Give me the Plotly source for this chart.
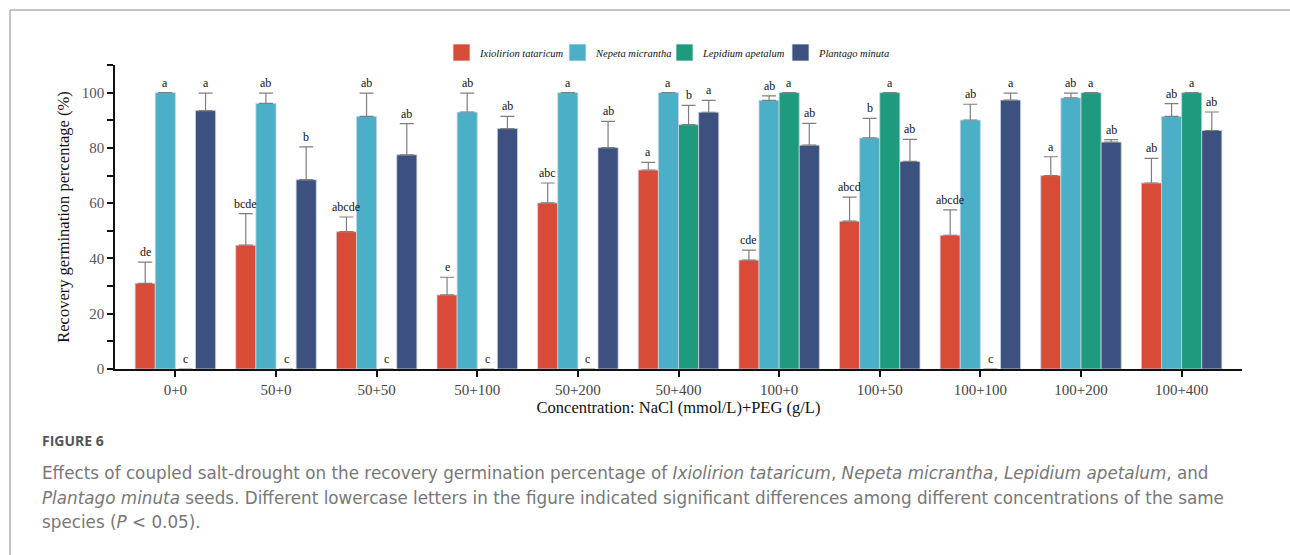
import plotly.graph_objects as go

# Treatments: NaCl (mmol/L) + PEG (g/L)
categories = ["0+0", "50+0", "50+50", "50+100", "50+200", "50+400",
              "100+0", "100+50", "100+100", "100+200", "100+400"]

species = ["Ixiolirion tataricum", "Nepeta micrantha",
           "Lepidium apetalum", "Plantago minuta"]

# Recovery germination percentage (%) - means
ixiolirion = [31.0, 44.8, 49.7, 26.8, 60.1, 72.0, 39.4, 53.5, 48.4, 70.0, 67.3]
nepeta = [100.0, 96.1, 91.4, 93.0, 100.0, 100.0, 97.2, 83.6, 90.1, 98.1, 91.4]
lepidium = [0.0, 0.0, 0.0, 0.0, 0.0, 88.4, 100.0, 100.0, 0.0, 100.0, 100.0]
plantago = [93.5, 68.5, 77.5, 87.0, 80.1, 92.9, 81.0, 75.1, 97.3, 82.1, 86.3]

# Standard errors
ixiolirion_se = [7.7, 11.4, 5.3, 6.4, 7.2, 2.8, 3.6, 8.7, 9.2, 6.8, 8.9]
nepeta_se = [0.0, 3.7, 8.4, 6.8, 0.0, 0.0, 1.6, 7.1, 5.7, 1.7, 4.6]
lepidium_se = [0.0, 0.0, 0.0, 0.0, 0.0, 7.0, 0.0, 0.0, 0.0, 0.0, 0.0]
plantago_se = [6.3, 11.9, 11.3, 4.4, 9.5, 4.3, 7.9, 8.0, 2.5, 0.9, 6.7]

# Significance letters
ixiolirion_sig = ["de", "bcde", "abcde", "e", "abc", "a", "cde", "abcd", "abcde", "a", "ab"]
nepeta_sig = ["a", "ab", "ab", "ab", "a", "a", "ab", "b", "ab", "ab", "ab"]
lepidium_sig = ["c", "c", "c", "c", "c", "b", "a", "a", "c", "a", "a"]
plantago_sig = ["a", "b", "ab", "ab", "ab", "a", "ab", "ab", "a", "ab", "ab"]

colors = ["#D84B37", "#4BAFC8", "#1E9A7E", "#3C5180"]

means = [ixiolirion, nepeta, lepidium, plantago]
errors = [ixiolirion_se, nepeta_se, lepidium_se, plantago_se]
letters = [ixiolirion_sig, nepeta_sig, lepidium_sig, plantago_sig]

SERIF = "Liberation Serif, Times New Roman, serif"
SANS = "DejaVu Sans, Open Sans, sans-serif"

W, H = 1290, 555
L, R, T, B = 115, 48, 65, 186
PW, PH = W - L - R, H - T - B

def px_x(px):
    return (px - L) / PW

def px_y(py):
    return (H - B - py) / PH

fig = go.Figure()

bargap = 0.2
bw = (1 - bargap) / len(species)

for k, (name, y, e, col) in enumerate(zip(species, means, errors, colors)):
    # no outline / error cap on empty (zero) bars
    e_plot = [s if v > 0 else None for v, s in zip(y, e)]
    lw = [0.8 if v > 0 else 0 for v in y]
    fig.add_trace(go.Bar(
        name=name,
        x=categories,
        y=y,
        showlegend=False,
        marker=dict(color=col, line=dict(color="#C9D3E0", width=lw)),
        error_y=dict(type="data", array=e_plot, arrayminus=[0] * len(e),
                     symmetric=False, color="#7F7F7F", thickness=1.2, width=7),
    ))

# Letters above each bar's error cap
annotations = []
for k in range(len(species)):
    for i in range(len(categories)):
        annotations.append(dict(
            x=i + (k - (len(species) - 1) / 2) * bw,
            y=means[k][i] + errors[k][i],
            xref="x", yref="y",
            text=letters[k][i], showarrow=False,
            yanchor="middle", xanchor="center", yshift=10,
            font=dict(family=SERIF, size=12, color="#111111"),
        ))

# Legend row: colour keys with italic species names
shapes = []
legend_left = [453, 569, 676, 792]
for name, col, x0 in zip(species, colors, legend_left):
    shapes.append(dict(
        type="rect", xref="paper", yref="paper",
        x0=px_x(x0), x1=px_x(x0 + 17), y0=px_y(61), y1=px_y(44),
        fillcolor=col, line=dict(color="#E8ECF2", width=0.8),
    ))
    annotations.append(dict(
        x=px_x(x0 + 24), y=px_y(53), xref="paper", yref="paper",
        text="<i>%s</i>" % name, showarrow=False,
        xanchor="left", yanchor="middle",
        font=dict(family=SERIF, size=10.5, color="#111111"),
    ))

# Figure caption
cap_font = dict(family=SANS, size=16.8, color="#777777")
annotations.append(dict(
    x=px_x(40), y=px_y(440), xref="paper", yref="paper",
    text="FIGURE 6", showarrow=False, xanchor="left", yanchor="middle",
    font=dict(family="Open Sans, sans-serif", size=14, color="#555555", weight="bold"),
))
caption_lines = [
    "Effects of coupled salt-drought on the recovery germination percentage of "
    "<i>Ixiolirion tataricum</i>, <i>Nepeta micrantha</i>, <i>Lepidium apetalum</i>, and",
    "<i>Plantago minuta</i> seeds. Different lowercase letters in the figure indicated "
    "significant differences among different concentrations of the same",
    "species (<i>P</i> &lt; 0.05).",
]
for j, line in enumerate(caption_lines):
    annotations.append(dict(
        x=px_x(40), y=px_y(473 + 24.5 * j), xref="paper", yref="paper",
        text=line, showarrow=False, xanchor="left", yanchor="middle",
        font=cap_font,
    ))

# Page frame (top and left rules)
shapes += [
    dict(type="line", xref="paper", yref="paper",
         x0=px_x(10), x1=px_x(W), y0=px_y(10), y1=px_y(10),
         line=dict(color="#B0B0B0", width=1.5)),
    dict(type="line", xref="paper", yref="paper",
         x0=px_x(10), x1=px_x(10), y0=px_y(10), y1=px_y(H),
         line=dict(color="#B0B0B0", width=1.5)),
]

fig.update_layout(
    width=W, height=H,
    margin=dict(l=L, r=R, t=T, b=B, pad=0),
    paper_bgcolor="white", plot_bgcolor="white",
    barmode="group", bargap=bargap, bargroupgap=0,
    font=dict(family=SERIF, color="#222222"),
    showlegend=False,
    xaxis=dict(
        type="category", range=[-0.6, 10.6],
        showline=True, linecolor="#111111", linewidth=1.5,
        ticks="outside", ticklen=6, tickcolor="#111111", tickwidth=1.5,
        tickfont=dict(family=SERIF, size=15, color="#444444"),
        showgrid=False, zeroline=False,
        title=dict(text="Concentration: NaCl (mmol/L)+PEG (g/L)",
                   font=dict(family=SERIF, size=16.5, color="#111111"), standoff=3),
    ),
    yaxis=dict(
        range=[0, 110], tickvals=[0, 20, 40, 60, 80, 100],
        showline=True, linecolor="#111111", linewidth=1.5,
        ticks="outside", ticklen=6, tickcolor="#111111", tickwidth=1.5,
        minor=dict(tickvals=[10, 30, 50, 70, 90, 110], ticks="outside",
                   ticklen=6, tickcolor="#111111", tickwidth=1.5),
        tickfont=dict(family=SERIF, size=15, color="#555555"),
        showgrid=False, zeroline=False,
        title=dict(text="Recovery germination percentage (%)",
                   font=dict(family=SERIF, size=16.5, color="#111111"), standoff=8),
    ),
    annotations=annotations,
    shapes=shapes,
)

fig.write_html("out.html")
